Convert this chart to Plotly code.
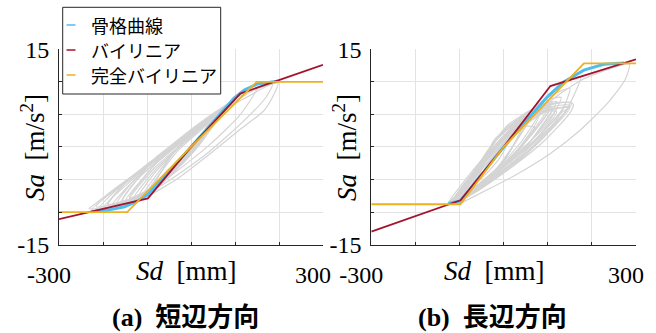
import plotly.graph_objects as go

W, H = 656, 333

# ---- (a) short-side direction: Sd [mm], Sa [m/s^2] ----
skel_a_sd = [-227, -189, -151, -121, -98, 0, 98, 121, 151, 189, 197]
skel_a_sa = [-9.96, -9.7, -9.2, -8.3, -7.3, 0, 7.5, 8.75, 9.67, 10.1, 10.1]
bil_a_sd = [-300, -98, 0, 112, 300]
bil_a_sa = [-11.1, -7.9, 0, 8.2, 12.6]
pbil_a_sd = [-300, -145, 0, 149, 300]
pbil_a_sa = [-10, -10, 0, 10, 10]

# response hysteresis loops, (Sd, Sa) vertices of each cycle
loops_a = [
    # outer cycles
    [(-232, -9.5), (-170, -9.0), (-100, -7.6), (-25, -4.6), (35, -1.5), (110, 2.6), (166, 5.6),
     (190, 8.3), (198, 9.8), (175, 9.4), (120, 7.4), (50, 4.9), (-25, 1.2), (-100, -2.8),
     (-177, -6.6), (-215, -8.6)],
    [(-215, -9.2), (-150, -8.4), (-60, -5.6), (40, -0.8), (120, 4.0), (170, 7.6), (185, 9.6),
     (140, 8.6), (60, 5.2), (-30, 0.6), (-120, -3.9), (-190, -7.4)],
    [(-190, -8.8), (-130, -7.8), (-50, -4.6), (40, 0.2), (110, 4.8), (150, 9.0), (90, 7.0),
     (10, 2.6), (-80, -2.0), (-150, -5.6)],
    # inner cycles
    [(-225, -9.6), (-150, -9.0), (-60, -5.2), (30, 1.6), (95, 7.2), (40, 4.2), (-40, 0.0),
     (-120, -4.0), (-180, -7.0)],
    [(-200, -9.4), (-130, -8.4), (-40, -3.8), (40, 2.6), (90, 6.9), (30, 3.6), (-50, -0.6),
     (-130, -4.8)],
    [(-180, -9.0), (-110, -7.6), (-20, -2.4), (50, 3.4), (85, 6.5), (20, 3.0), (-60, -1.4),
     (-130, -5.2)],
    [(-160, -8.6), (-90, -6.8), (0, -1.0), (80, 6.2), (10, 2.6), (-70, -1.8), (-130, -5.6)],
    [(-150, -8.4), (-80, -6.4), (10, -0.4), (75, 5.9), (0, 2.0), (-80, -2.6)],
    [(-140, -8.0), (-70, -5.8), (20, 0.4), (70, 5.6), (0, 1.6), (-80, -3.0)],
    [(-130, -7.8), (-60, -5.0), (20, 0.6), (65, 5.2), (-10, 1.0), (-80, -3.4)],
    [(-120, -7.6), (-50, -4.4), (60, 4.8), (-20, 0.4), (-80, -3.8)],
    [(-110, -7.4), (-40, -3.6), (55, 4.4), (-30, -0.2)],
    [(-100, -7.0), (-30, -2.8), (50, 4.0), (-30, -0.6)],
    [(-170, -8.8), (-100, -7.2), (-10, -1.6), (60, 4.2), (100, 7.4), (40, 4.4), (-40, 0.2),
     (-120, -4.4)],
    [(-140, -7.8), (-60, -5.2), (30, 1.6), (88, 6.6), (20, 3.6), (-60, -1.0)],
    [(-190, -9.0), (-120, -7.8), (-30, -3.0), (50, 3.4), (92, 6.8), (20, 3.4), (-70, -1.6),
     (-150, -5.6)],
    [(-90, -6.6), (-30, -3.0), (40, 3.6), (-30, 0.0)],
    [(-155, -8.2), (-90, -6.6), (0, -0.8), (78, 6.0), (0, 2.4), (-90, -2.4)],
    [(-210, -9.5), (-140, -8.8), (-50, -4.4), (30, 1.8), (85, 6.6), (10, 3.2), (-80, -1.6),
     (-160, -6.0)],
]

# ---- (b) long-side direction ----
skel_b_sd = [-125, -98, 0, 99, 136, 182, 227, 273]
skel_b_sa = [-8.7, -8.3, 0, 7.7, 10.0, 11.8, 12.7, 12.9]
bil_b_sd = [-300, -98, 0, 106, 300]
bil_b_sa = [-13.0, -8.2, 0, 9.36, 13.45]
pbil_b_sd = [-300, -98, 0, 182, 300]
pbil_b_sa = [-8.8, -8.8, 0, 12.85, 12.85]

loops_b = [
    [(-128, -8.8), (-98, -8.6), (-53, -7.1), (22, -4.5), (106, -1.0), (174, 2.6), (235, 6.7),
     (275, 10.3), (285, 12.7), (240, 12.0), (180, 10.4), (120, 7.8), (40, 3.0), (-40, -2.8),
     (-100, -7.0)],
    [(-120, -8.6), (-80, -7.6), (0, -3.6), (80, 0.8), (140, 5.4), (175, 10.8), (150, 10.2),
     (90, 7.2), (20, 2.6), (-60, -3.6)],
    [(-115, -8.4), (-70, -7.0), (10, -2.6), (90, 2.4), (135, 6.0), (150, 9.0), (110, 8.0),
     (40, 4.2), (-40, -1.6), (-90, -6.0)],
    [(-110, -8.2), (-60, -6.4), (20, -2.0), (100, 2.6), (150, 6.4), (110, 6.2), (50, 4.0),
     (-30, -1.0), (-90, -5.8)],
    [(-105, -8.0), (-50, -5.8), (30, -1.0), (100, 3.6), (130, 7.6), (90, 7.0), (20, 3.0),
     (-60, -3.2)],
    [(-100, -7.8), (-40, -5.0), (40, 0.2), (110, 7.0), (60, 5.6), (-20, 0.8), (-70, -4.0)],
    [(-95, -7.6), (-30, -4.4), (40, 0.8), (90, 6.4), (40, 4.8), (-30, 0.0)],
    [(-90, -7.2), (-20, -3.6), (70, 5.6), (10, 3.4), (-50, -2.2)],
    [(-80, -6.8), (-10, -3.0), (60, 5.0), (0, 2.6)],
    [(-70, -6.2), (0, -2.2), (50, 4.4), (-10, 1.8)],
    [(-125, -8.6), (-60, -6.0), (40, -0.8), (120, 7.0), (40, 4.4), (-60, -2.8)],
    [(-60, -5.4), (-10, -1.8), (30, 3.6), (-20, 1.2)],
    [(-112, -8.3), (-50, -6.2), (40, -1.6), (120, 4.2), (140, 6.8), (90, 6.2), (20, 2.6),
     (-50, -2.6)],
    [(-108, -8.1), (-40, -5.6), (50, -0.6), (130, 5.2), (150, 6.2), (100, 5.6), (30, 2.4),
     (-60, -3.6)],
    [(-100, -8.0), (-30, -4.8), (60, 0.8), (120, 6.0), (70, 5.0), (0, 1.6), (-60, -3.4)],
    [(-90, -7.4), (-20, -4.0), (60, 1.6), (100, 5.4), (50, 4.2), (-20, 0.0)],
    [(-85, -7.0), (-10, -3.6), (70, 2.6), (110, 6.2), (50, 4.6), (-30, -0.6)],
    [(-75, -6.6), (0, -3.0), (60, 2.2), (80, 4.8), (20, 3.0), (-40, -1.8)],
    [(-118, -8.5), (-70, -7.2), (0, -4.0), (90, 0.8), (150, 5.2), (158, 6.6), (120, 6.8),
     (60, 4.6), (-20, 0.2), (-80, -4.8)],
    [(-65, -6.0), (10, -2.4), (70, 3.0), (30, 3.0), (-30, -1.0)],
    [(-122, -8.6), (-60, -6.6), (20, -3.0), (90, 1.4), (150, 6.0), (100, 5.6), (30, 2.6),
     (-40, -2.6), (-90, -6.4)],
    [(-115, -8.4), (-50, -6.0), (30, -2.2), (100, 2.4), (155, 6.8), (100, 6.4), (20, 2.0),
     (-60, -3.8)],
    [(-105, -8.2), (-40, -5.4), (40, -1.2), (120, 5.4), (70, 5.2), (0, 1.0), (-60, -3.6)],
    [(-95, -7.8), (-30, -4.8), (50, 0.0), (110, 5.6), (60, 4.8), (-10, 0.4), (-60, -3.8)],
]

# axis ticks
x_ticks = [-300, -200, -100, 0, 100, 200, 300]
x_ticktext = ["-300", "", "", "", "", "", "300"]
y_ticks = [-15, -10, -5, 0, 5, 10, 15]
y_ticktext = ["-15", "", "", "", "", "", "15"]

series_names = ["骨格曲線", "バイリニア", "完全バイリニア"]
captions = ["(a)\u00a0\u00a0短辺方向", "(b)\u00a0\u00a0長辺方向"]

BLUE, RED, YELLOW, GREY = "#4DBEEE", "#A2142F", "#EDB120", "#D4D4D4"
SERIF = "Liberation Serif"
MIXED = "Liberation Serif, Noto Sans CJK JP"
SANS = "Noto Sans CJK JP"


def loop_xy(loops):
    xs, ys = [], []
    for lp in loops:
        pts = lp + [lp[0]]
        xs += [p[0] for p in pts] + [None]
        ys += [p[1] for p in pts] + [None]
    return xs, ys


fig = go.Figure()
panels = [
    ("x", "y", loops_a, (skel_a_sd, skel_a_sa), (bil_a_sd, bil_a_sa), (pbil_a_sd, pbil_a_sa)),
    ("x2", "y2", loops_b, (skel_b_sd, skel_b_sa), (bil_b_sd, bil_b_sa), (pbil_b_sd, pbil_b_sa)),
]
for xa, ya, loops, skel, bil, pbil in panels:
    lx, ly = loop_xy(loops)
    fig.add_trace(go.Scatter(x=lx, y=ly, mode="lines", xaxis=xa, yaxis=ya,
                             line=dict(color=GREY, width=1.2, shape="spline", smoothing=0.6),
                             showlegend=False, hoverinfo="skip"))
    fig.add_trace(go.Scatter(x=skel[0], y=skel[1], mode="lines", xaxis=xa, yaxis=ya,
                             line=dict(color=BLUE, width=3), name=series_names[0],
                             showlegend=False))
    fig.add_trace(go.Scatter(x=bil[0], y=bil[1], mode="lines", xaxis=xa, yaxis=ya,
                             line=dict(color=RED, width=1.8), name=series_names[1],
                             showlegend=False))
    fig.add_trace(go.Scatter(x=pbil[0], y=pbil[1], mode="lines", xaxis=xa, yaxis=ya,
                             line=dict(color=YELLOW, width=1.8), name=series_names[2],
                             showlegend=False))

y_dom = [(H - 244.6) / H, (H - 49.3) / H]
x_doms = [[59 / W, 323 / W], [371.3 / W, 636 / W]]

axis_common = dict(showgrid=True, gridcolor="#E3E3E3", gridwidth=1, zeroline=False,
                   showline=True, linecolor="#262626", linewidth=1, mirror=False,
                   ticks="inside", ticklen=3, tickcolor="#262626", tickwidth=1,
                   automargin=False,
                   tickfont=dict(family=SERIF, size=24, color="#000000"))

for i, sfx in enumerate(["", "2"]):
    fig.layout["xaxis" + sfx] = dict(axis_common, domain=x_doms[i], range=[-300, 300],
                                     tickmode="array", tickvals=x_ticks, ticktext=x_ticktext,
                                     ticklabelstandoff=9, ticklabelshift=-10,
                                     anchor="y" + sfx)
    fig.layout["yaxis" + sfx] = dict(axis_common, domain=y_dom, range=[-15, 15],
                                     tickmode="array", tickvals=y_ticks, ticktext=y_ticktext,
                                     ticklabelstandoff=4, anchor="x" + sfx)


def P(x, y):
    return x / W, 1 - y / H


annotations = []
shapes = []
for i, (xc, ylab_x, cap_x) in enumerate([(186.5, 33, 186), (494, 345, 492.7)]):
    ax, ay = P(xc, 271)
    annotations.append(dict(x=ax, y=ay, xref="paper", yref="paper", showarrow=False,
                            text="<i>Sd</i>\u00a0\u00a0[mm]", xanchor="center", yanchor="middle",
                            font=dict(family=SERIF, size=27, color="#000000")))
    ax, ay = P(ylab_x, 148)
    annotations.append(dict(x=ax, y=ay, xref="paper", yref="paper", showarrow=False,
                            text="<i>Sa</i>\u00a0\u00a0[m/s<sup>2</sup>]", textangle=-90,
                            xanchor="center", yanchor="middle",
                            font=dict(family=SERIF, size=27, color="#000000")))
    ax, ay = P(cap_x, 317)
    annotations.append(dict(x=ax, y=ay, xref="paper", yref="paper", showarrow=False,
                            text="<b>" + captions[i] + "</b>", xanchor="center", yanchor="middle",
                            font=dict(family=MIXED, size=26, color="#000000")))

# legend box
lx0, ly0 = P(62.7, 94)
lx1, ly1 = P(220.7, 7.3)
shapes.append(dict(type="rect", xref="paper", yref="paper", x0=lx0, y0=ly0, x1=lx1, y1=ly1,
                   line=dict(color="#262626", width=1), fillcolor="#FFFFFF", layer="above"))
for name, col, yy in zip(series_names, [BLUE, RED, YELLOW], [25, 50, 75]):
    sx0, sy = P(66.5, yy)
    sx1, _ = P(75.5, yy)
    shapes.append(dict(type="line", xref="paper", yref="paper", x0=sx0, x1=sx1, y0=sy, y1=sy,
                       line=dict(color=col, width=1.5), layer="above"))
    tx, ty = P(89, yy)
    annotations.append(dict(x=tx, y=ty, xref="paper", yref="paper", showarrow=False,
                            text=name, xanchor="left", yanchor="middle",
                            font=dict(family=SANS, size=18, color="#000000")))

fig.update_layout(width=W, height=H, margin=dict(l=0, r=0, t=0, b=0),
                  paper_bgcolor="#FFFFFF", plot_bgcolor="#FFFFFF",
                  showlegend=False, annotations=annotations, shapes=shapes)

fig.write_html("out.html")
